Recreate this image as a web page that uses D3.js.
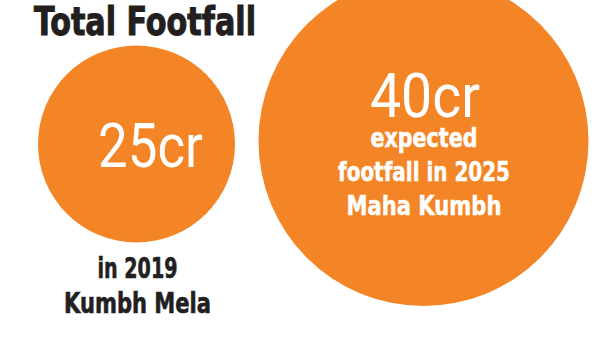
<!DOCTYPE html>
<html>
<head>
<meta charset="utf-8">
<script src="https://cdn.jsdelivr.net/npm/d3@7"></script>
<style>
  html, body { margin: 0; padding: 0; background: #fff; }
  svg { display: block; }
</style>
</head>
<body>
<svg id="chart" width="600" height="350"></svg>
<script>
// Kumbh footfall figures (crore visitors)
const events = ["2019 Kumbh Mela", "2025 Maha Kumbh"];
const footfall = [25, 40];
const valueLabels = ["25cr", "40cr"];
const insideCaptions = [[], ["expected", "footfall in 2025", "Maha Kumbh"]];
const belowCaptions = [["in 2019", "Kumbh Mela"], []];
const title = "Total Footfall";

const orange = "#f38526";
const ink = "#231f20";
const narrow = "'Liberation Sans Narrow', 'DejaVu Sans Condensed', 'Arial Narrow', sans-serif";

const svg = d3.select("#chart");

const x = d3.scalePoint().domain(events).range([136.5, 423.5]);
const r = d3.scaleLinear().domain([25, 40]).range([98.5, 165]);
const cy = d3.scaleOrdinal().domain(events).range([144, 141]);

const rows = events.map((e, i) => ({
  event: e, value: footfall[i], label: valueLabels[i],
  inside: insideCaptions[i], below: belowCaptions[i]
}));

// bubbles
svg.append("g").selectAll("circle")
  .data(rows)
  .join("circle")
  .attr("cx", d => x(d.event))
  .attr("cy", d => cy(d.event))
  .attr("r", d => r(d.value))
  .attr("fill", orange);

// title, set heavy
svg.append("text")
  .attr("x", 34).attr("y", 35)
  .attr("font-family", narrow)
  .attr("font-weight", 700)
  .attr("font-size", 39)
  .attr("fill", ink)
  .attr("stroke", ink)
  .attr("stroke-width", 1)
  .attr("textLength", 222)
  .attr("lengthAdjust", "spacingAndGlyphs")
  .text(title);

// value labels
const valueOffset = [{dx: 14, dy: 23}, {dx: 1.5, dy: -24}];
const valueWidth = [105, 110];
svg.append("g").selectAll("text")
  .data(rows)
  .join("text")
  .attr("x", (d, i) => x(d.event) + valueOffset[i].dx)
  .attr("y", (d, i) => cy(d.event) + valueOffset[i].dy)
  .attr("text-anchor", "middle")
  .attr("font-family", "Roboto, 'Open Sans', sans-serif")
  .attr("font-weight", 400)
  .attr("font-size", 61)
  .attr("fill", "#fff")
  .attr("textLength", (d, i) => valueWidth[i])
  .attr("lengthAdjust", "spacingAndGlyphs")
  .text(d => d.label);

// captions inside the large bubble
const insideWidths = [107, 172, 155];
rows.forEach(d => {
  d.inside.forEach((line, j) => {
    svg.append("text")
      .attr("x", x(d.event) + 0.5)
      .attr("y", cy(d.event) + 6 + j * 34)
      .attr("text-anchor", "middle")
      .attr("font-family", narrow)
      .attr("font-weight", 700)
      .attr("font-size", 27)
      .attr("fill", "#fff")
      .attr("stroke", "#fff")
      .attr("stroke-width", 0.5)
      .attr("textLength", insideWidths[j])
      .attr("lengthAdjust", "spacingAndGlyphs")
      .text(line);
  });
});

// captions below the small bubble
const belowWidths = [80, 147];
rows.forEach(d => {
  d.below.forEach((line, j) => {
    svg.append("text")
      .attr("x", x(d.event) + 1)
      .attr("y", 278 + j * 35)
      .attr("text-anchor", "middle")
      .attr("font-family", narrow)
      .attr("font-weight", 700)
      .attr("font-size", 28)
      .attr("fill", ink)
      .attr("stroke", ink)
      .attr("stroke-width", 0.6)
      .attr("textLength", belowWidths[j])
      .attr("lengthAdjust", "spacingAndGlyphs")
      .text(line);
  });
});
</script>
</body>
</html>
